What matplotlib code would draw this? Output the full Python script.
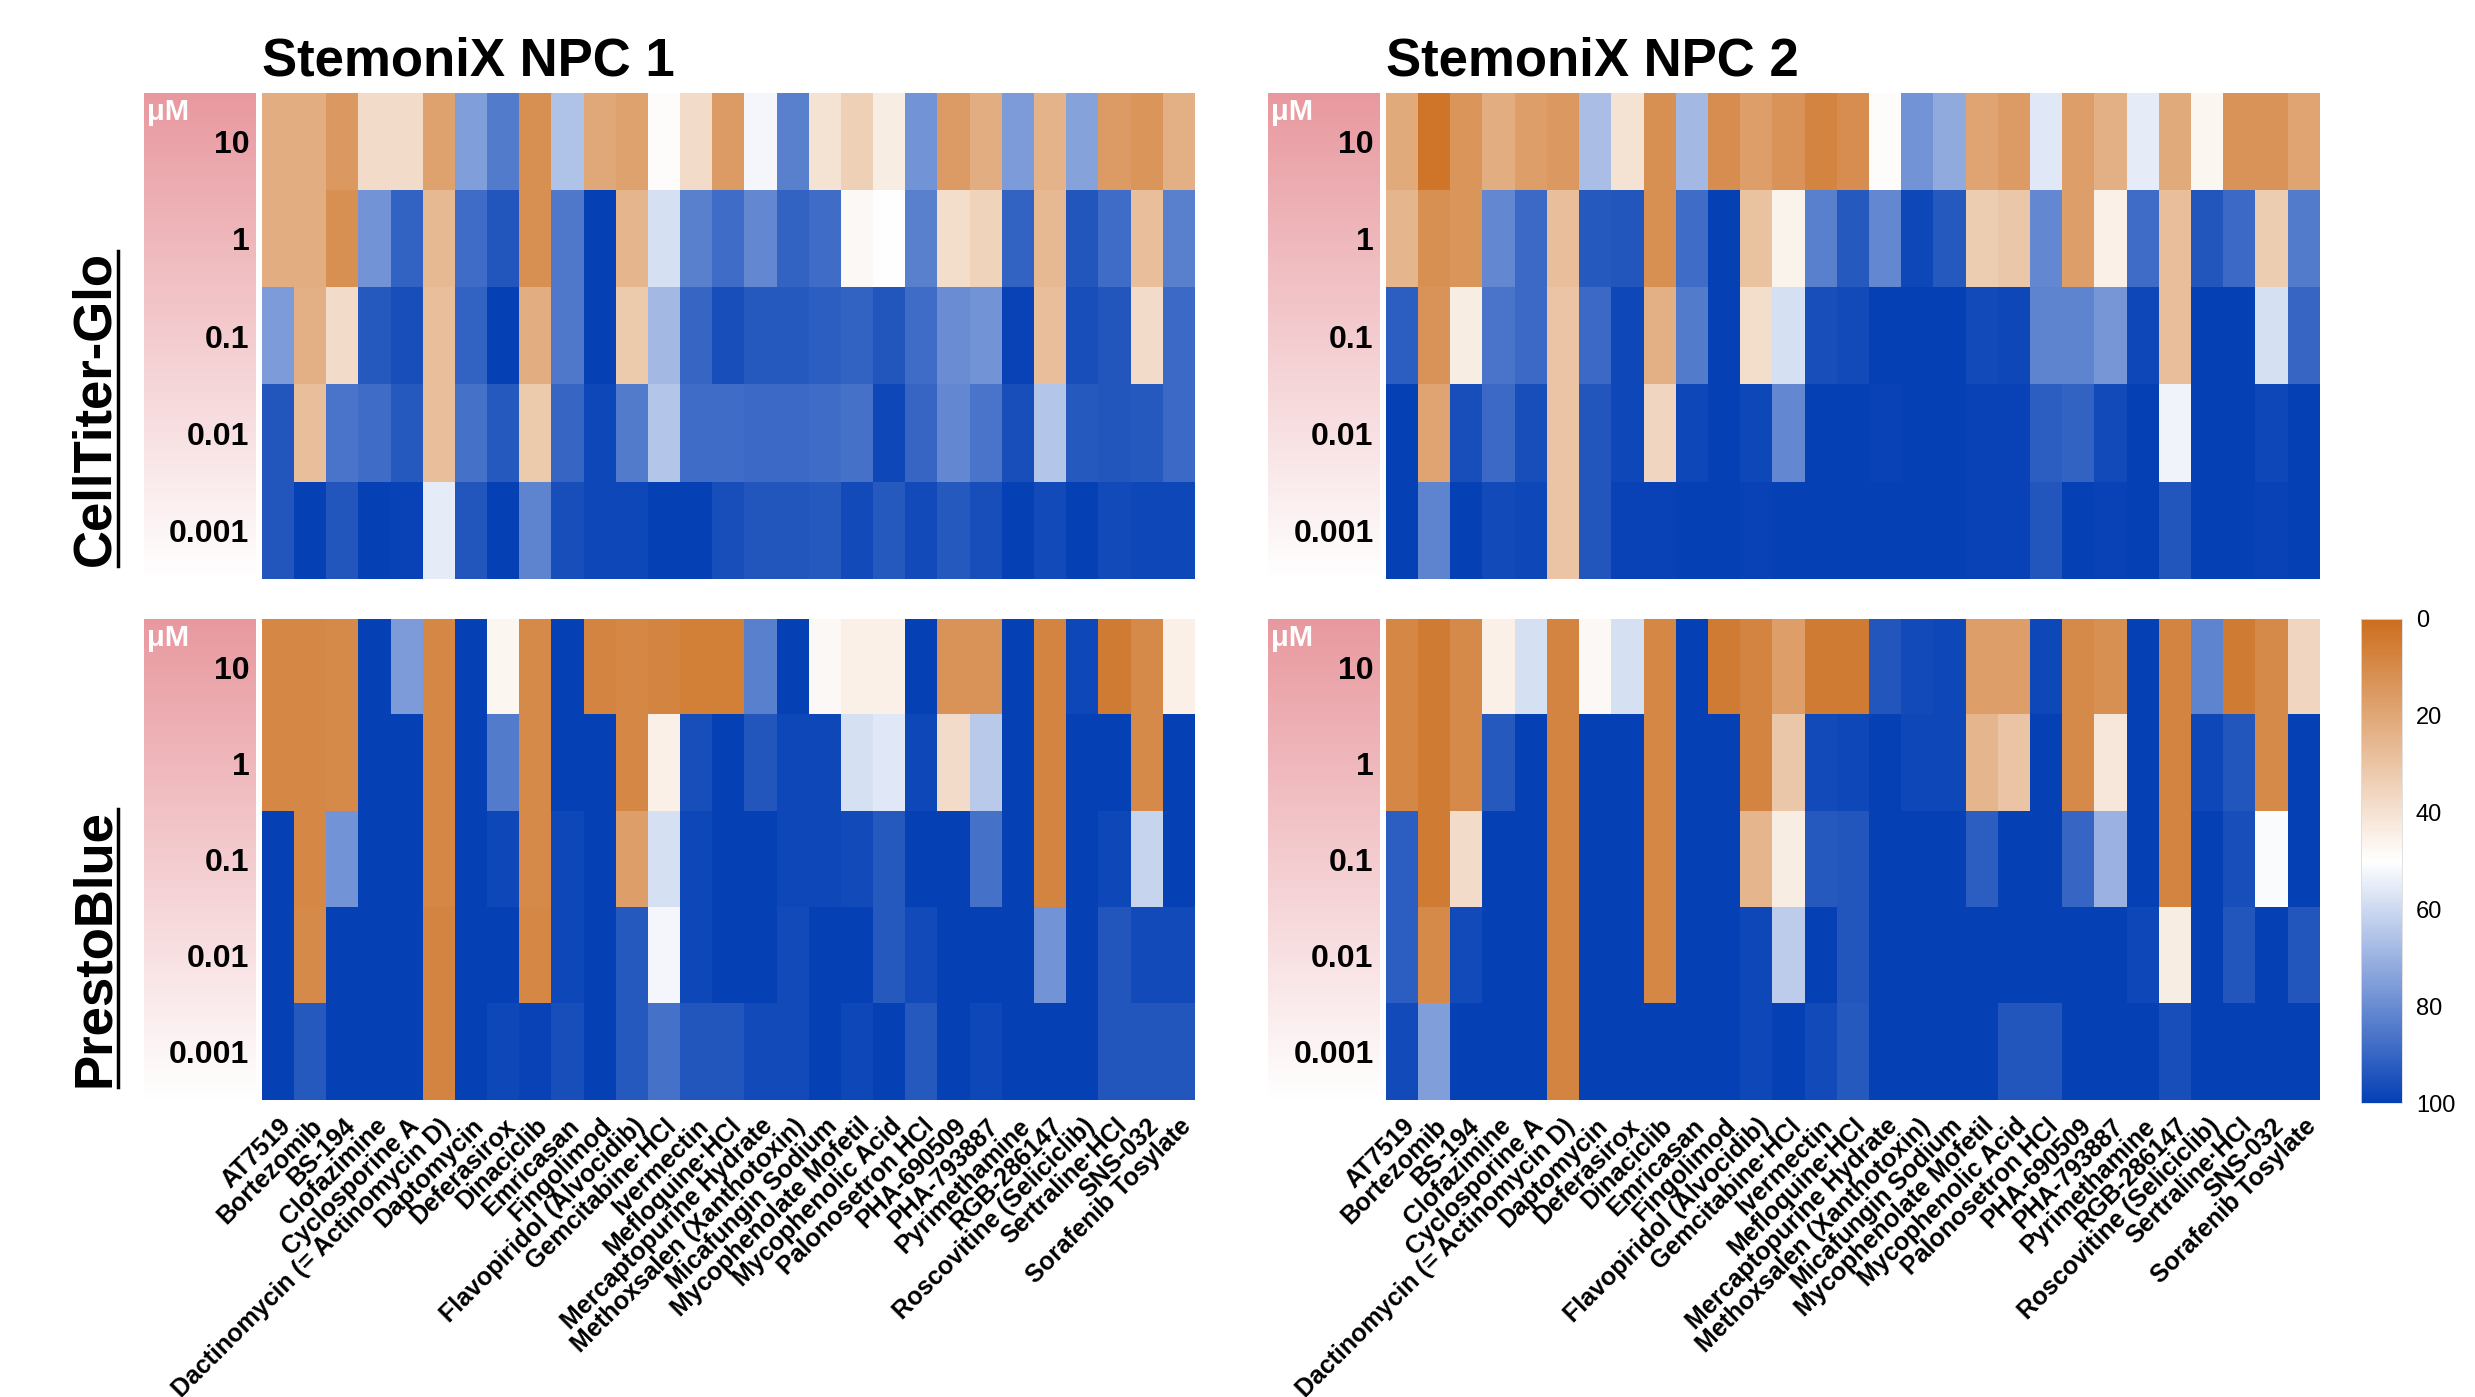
import numpy as np
import matplotlib
matplotlib.use('Agg')
import matplotlib.pyplot as plt
from matplotlib.colors import LinearSegmentedColormap
from matplotlib.lines import Line2D

plt.rcParams['font.family'] = ['Liberation Sans', 'DejaVu Sans']

drugs = ['AT7519', 'Bortezomib', 'BS-194', 'Clofazimine', 'Cyclosporine A',
         'Dactinomycin (= Actinomycin D)', 'Daptomycin', 'Deferasirox', 'Dinaciclib',
         'Emricasan', 'Fingolimod', 'Flavopiridol (Alvocidib)', 'Gemcitabine\u00b7HCl',
         'Ivermectin', 'Mefloquine\u00b7HCl', 'Mercaptopurine Hydrate',
         'Methoxsalen (Xanthotoxin)', 'Micafungin Sodium', 'Mycophenolate Mofetil',
         'Mycophenolic Acid', 'Palonosetron HCl', 'PHA-690509', 'PHA-793887',
         'Pyrimethamine', 'RGB-286147', 'Roscovitine (Seliciclib)', 'Sertraline\u00b7HCl',
         'SNS-032', 'Sorafenib Tosylate']
doses = ['10', '1', '0.1', '0.01', '0.001']

# % viability, rows = doses (10 ... 0.001 uM), cols = drugs
ctg_npc1 = [
    [22, 22, 15, 38, 38, 18, 75, 84, 12, 66, 20, 18, 49, 38, 16, 52, 83, 40, 34, 44, 78, 16, 22, 76, 24, 74, 16, 14, 23],
    [22, 22, 12, 78, 91, 26, 88, 94, 12, 85, 100, 25, 58, 83, 88, 81, 91, 88, 48, 50, 83, 39, 35, 91, 26, 94, 88, 28, 83],
    [76, 23, 38, 93, 96, 28, 91, 100, 22, 85, 100, 32, 68, 90, 96, 93, 93, 92, 91, 94, 88, 80, 78, 99, 28, 96, 94, 38, 89],
    [94, 28, 86, 88, 93, 28, 87, 93, 32, 90, 98, 84, 65, 88, 88, 89, 89, 88, 87, 98, 90, 81, 86, 96, 65, 93, 94, 93, 89],
    [94, 100, 94, 100, 99, 55, 94, 100, 82, 96, 98, 98, 100, 100, 96, 94, 94, 93, 97, 93, 97, 93, 96, 100, 97, 100, 97, 98, 98],
]
ctg_npc2 = [
    [21, 3, 14, 22, 17, 15, 67, 40, 12, 68, 11, 17, 13, 8, 11, 49, 78, 72, 19, 16, 56, 17, 23, 55, 21, 47, 13, 13, 19],
    [25, 12, 14, 81, 89, 28, 93, 94, 12, 88, 100, 29, 46, 83, 93, 81, 98, 93, 33, 31, 81, 17, 45, 88, 28, 94, 89, 33, 84],
    [92, 13, 44, 86, 89, 30, 89, 98, 23, 84, 100, 39, 58, 96, 97, 100, 100, 100, 97, 98, 82, 82, 77, 98, 28, 100, 100, 58, 90],
    [100, 19, 96, 89, 96, 30, 94, 98, 36, 98, 100, 98, 81, 100, 100, 99, 100, 100, 99, 99, 92, 91, 97, 100, 53, 100, 100, 98, 100],
    [100, 82, 100, 97, 98, 30, 94, 99, 99, 100, 100, 99, 100, 100, 100, 100, 100, 100, 99, 99, 94, 100, 99, 100, 94, 100, 100, 99, 100],
]
pb_npc1 = [
    [9, 9, 10, 100, 76, 9, 100, 47, 10, 100, 8, 9, 8, 6, 6, 83, 100, 48, 45, 45, 100, 13, 13, 100, 8, 98, 5, 10, 45],
    [9, 9, 10, 100, 100, 9, 100, 84, 10, 100, 100, 9, 45, 96, 100, 94, 98, 98, 58, 56, 98, 38, 64, 100, 8, 100, 100, 10, 100],
    [100, 9, 78, 100, 100, 9, 100, 98, 10, 98, 100, 17, 58, 98, 100, 100, 98, 98, 97, 93, 100, 100, 87, 100, 8, 100, 98, 61, 100],
    [100, 10, 100, 100, 100, 8, 100, 100, 9, 98, 100, 93, 52, 98, 100, 100, 97, 100, 100, 93, 97, 100, 100, 100, 78, 100, 94, 97, 97],
    [100, 93, 100, 100, 100, 8, 100, 98, 99, 96, 100, 93, 87, 94, 94, 97, 97, 100, 98, 100, 93, 100, 98, 100, 100, 100, 94, 94, 94],
]
pb_npc2 = [
    [9, 5, 10, 45, 58, 8, 48, 58, 9, 100, 5, 8, 17, 5, 5, 94, 97, 98, 17, 17, 98, 10, 12, 100, 8, 82, 5, 10, 36],
    [9, 5, 10, 93, 100, 8, 100, 100, 9, 100, 100, 8, 31, 97, 98, 100, 98, 98, 25, 30, 100, 10, 42, 100, 8, 98, 94, 10, 100],
    [92, 5, 38, 100, 100, 8, 100, 100, 9, 100, 100, 25, 44, 93, 94, 100, 100, 100, 92, 100, 100, 90, 70, 100, 8, 100, 96, 51, 100],
    [92, 10, 97, 100, 100, 8, 100, 100, 9, 100, 100, 98, 63, 100, 94, 100, 100, 100, 100, 100, 100, 100, 100, 98, 44, 100, 94, 100, 94],
    [97, 75, 100, 100, 100, 8, 100, 100, 100, 100, 100, 98, 100, 97, 93, 100, 100, 100, 100, 94, 94, 100, 100, 100, 96, 100, 100, 100, 100],
]

titles = ['StemoniX NPC 1', 'StemoniX NPC 2']
assays = ['CellTiter-Glo', 'PrestoBlue']
panels = [[ctg_npc1, ctg_npc2], [pb_npc1, pb_npc2]]

W, H = 2475, 1397
fig = plt.figure(figsize=(W / 100, H / 100), dpi=100)


def box(x0, x1, y0, y1):
    # pixel box (top-left origin) -> figure fraction rect
    return [x0 / W, 1 - y1 / H, (x1 - x0) / W, (y1 - y0) / H]


cmap = LinearSegmentedColormap.from_list('viab', ['#CC6E1E', '#FFFFFF', '#0540B5'])
pink = LinearSegmentedColormap.from_list('pinkfade', ['#E8999F', '#FFFFFF'])

col_x = [(262, 1195), (1386, 2320)]
row_y = [(93, 579), (619, 1100)]

im = None
for r in range(2):
    for c in range(2):
        x0, x1 = col_x[c]
        y0, y1 = row_y[r]
        # pink dose strip
        pa = fig.add_axes(box(x0 - 118, x0 - 6, y0, y1))
        pa.imshow(np.linspace(0, 1, 200).reshape(-1, 1), cmap=pink, aspect='auto')
        pa.axis('off')
        pa.text(0.03, 0.99, '\u03bcM', transform=pa.transAxes, color='white',
                fontsize=21, fontweight='bold', ha='left', va='top')

        ax = fig.add_axes(box(x0, x1, y0, y1))
        im = ax.imshow(np.array(panels[r][c]), cmap=cmap, vmin=0, vmax=100,
                       aspect='auto', interpolation='nearest')
        for s in ax.spines.values():
            s.set_visible(False)
        ax.set_yticks(range(len(doses)))
        ax.set_yticklabels(doses, fontsize=23, fontweight='bold')
        ax.tick_params(axis='y', length=0, pad=9)
        ax.set_xticks(range(len(drugs)))
        if r == 1:
            ax.set_xticklabels(drugs, rotation=45, ha='right', rotation_mode='anchor',
                               fontsize=18, fontweight='bold')
            ax.tick_params(axis='x', length=0, pad=10)
        else:
            ax.set_xticklabels([])
            ax.tick_params(axis='x', length=0)

for c in range(2):
    fig.text(col_x[c][0] / W, 1 - 75 / H, titles[c], fontsize=38, fontweight='bold',
             ha='left', va='baseline')

row_texts = []
for r in range(2):
    t = fig.text(95 / W, 1 - (row_y[r][1] - 13) / H, assays[r], rotation=90,
                 fontsize=38, fontweight='bold', ha='center', va='bottom')
    row_texts.append(t)

cax = fig.add_axes(box(2361, 2402, 619, 1103))
cb = fig.colorbar(im, cax=cax, ticks=[0, 20, 40, 60, 80, 100])
cax.invert_yaxis()
cb.outline.set_edgecolor('#dddddd')
cb.outline.set_linewidth(0.6)
cax.tick_params(length=0, labelsize=17, pad=10)

# underline the rotated assay labels
fig.canvas.draw()
rend = fig.canvas.get_renderer()
for t in row_texts:
    bb = t.get_window_extent(rend)
    lx = (bb.x1 - 2) / W
    fig.add_artist(Line2D([lx, lx], [bb.y0 / H, bb.y1 / H], color='black', lw=2.5,
                          transform=fig.transFigure))

fig.savefig('out.png', dpi=100)
